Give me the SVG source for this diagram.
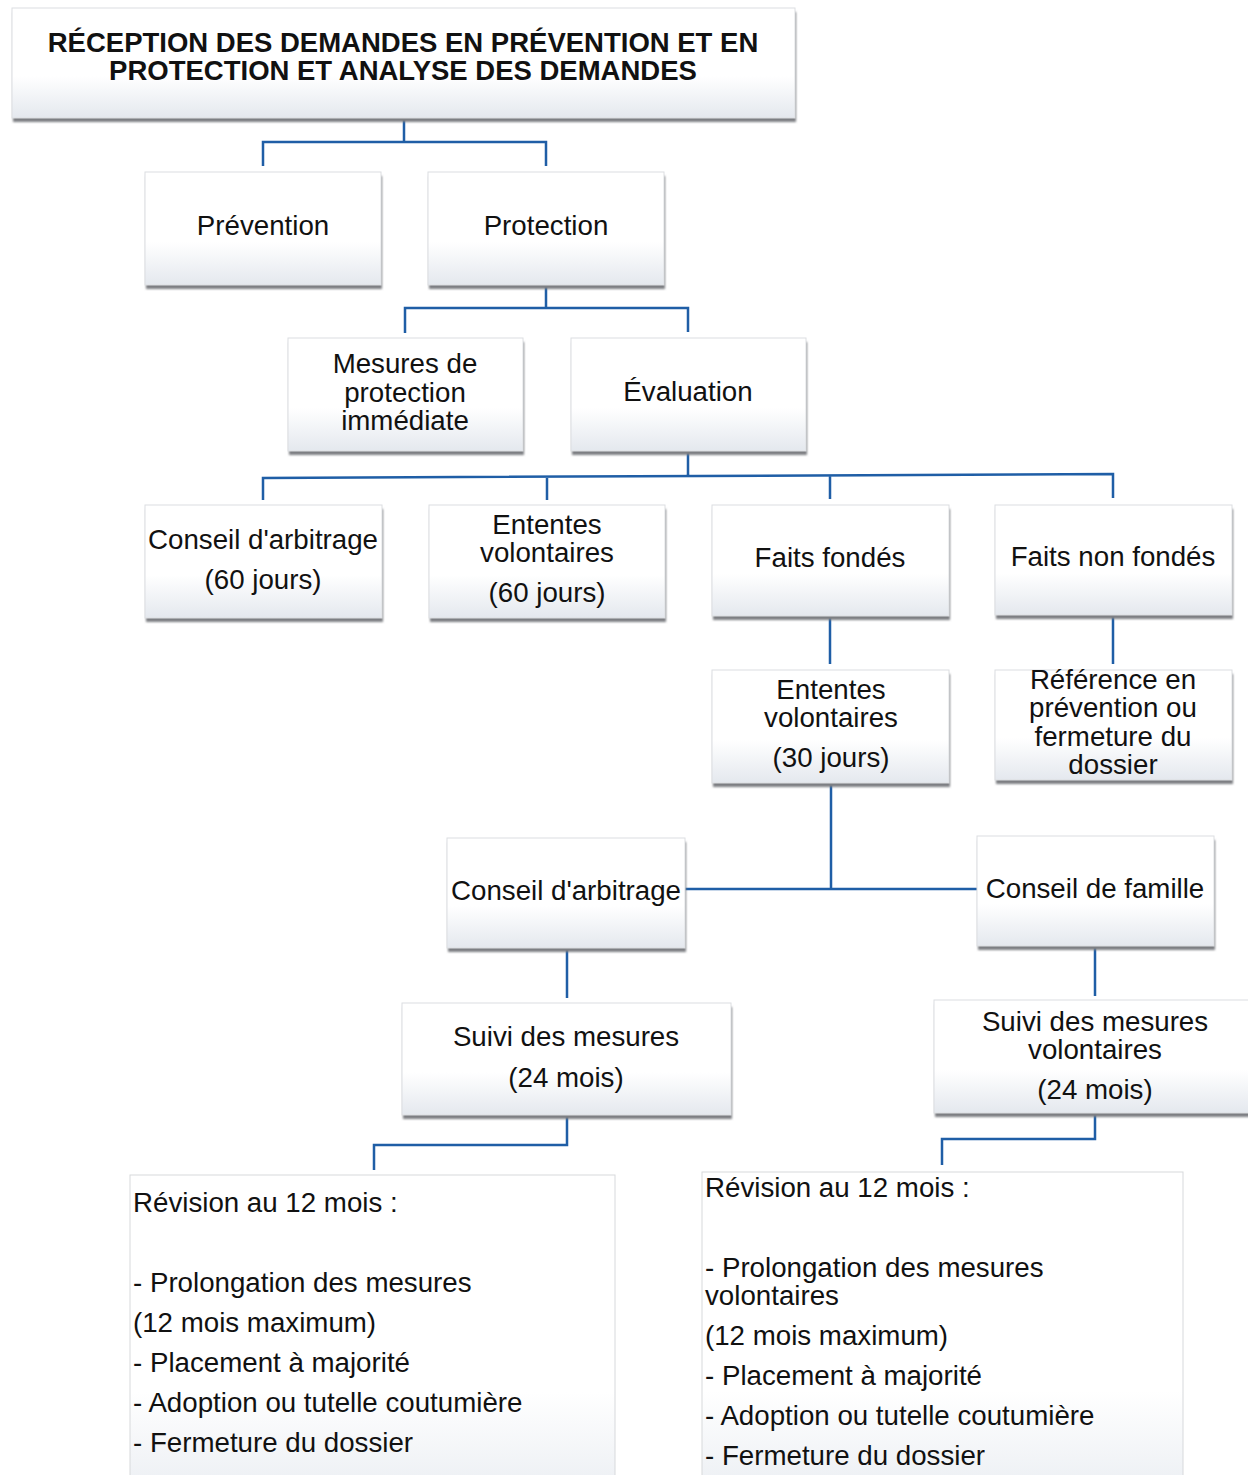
<svg xmlns="http://www.w3.org/2000/svg" width="1248" height="1475" viewBox="0 0 1248 1475">
<defs>
<linearGradient id="g" x1="0" y1="0" x2="0" y2="1">
<stop offset="0" stop-color="#ffffff"/>
<stop offset="0.62" stop-color="#ffffff"/>
<stop offset="1" stop-color="#e4e8ee"/>
</linearGradient>
<linearGradient id="g2" x1="0" y1="0" x2="0" y2="1">
<stop offset="0" stop-color="#ffffff"/>
<stop offset="0.7" stop-color="#ffffff"/>
<stop offset="1" stop-color="#edf0f4"/>
</linearGradient>
<filter id="sh" x="-5%" y="-5%" width="110%" height="120%">
<feGaussianBlur stdDeviation="1.2"/>
</filter>
</defs>
<style>
.shadow{fill:#7d7f83;filter:url(#sh)}
.box{fill:url(#g);stroke:#dcdee1;stroke-width:1}
.box2{fill:url(#g2);stroke:#d7d9dc;stroke-width:1}
.t{font-family:"Liberation Sans",Arial,sans-serif;font-size:27.7px;fill:#111;text-anchor:middle}
.tl{font-family:"Liberation Sans",Arial,sans-serif;font-size:27.7px;fill:#111}
.title{font-family:"Liberation Sans",Arial,sans-serif;font-size:27.5px;font-weight:bold;fill:#111;text-anchor:middle}
.c{fill:none;stroke:#1f5ea6;stroke-width:2.5}
</style>
<rect width="1248" height="1475" fill="#ffffff"/>

<g id="connectors">
<path class="c" d="M404 120 V142 M263 166 V142 H546 V166"/>
<path class="c" d="M546 287 V308 M405 333 V308 H688 V332"/>
<path class="c" d="M688 453 V476 M263 500 V478 L1113 474 V498 M547 476 V500 M830 475 V499"/>
<path class="c" d="M830 618 V664 M1113 617 V664"/>
<path class="c" d="M831 785 V889 M684 889 H978"/>
<path class="c" d="M567 950 V998 M1095 948 V996"/>
<path class="c" d="M567 1117 V1145 H374 V1170 M1095 1115 V1139 H942 V1165"/>
</g>

<g id="n-title">
<rect class="shadow" x="13" y="12" width="783" height="110"/>
<rect class="box" x="12" y="8" width="783" height="110"/>
<text class="title" x="403" y="52">RÉCEPTION DES DEMANDES EN PRÉVENTION ET EN</text>
<text class="title" x="403" y="80">PROTECTION ET ANALYSE DES DEMANDES</text>
</g>

<g id="n-prevention">
<rect class="shadow" x="146" y="176" width="236" height="113"/>
<rect class="box" x="145" y="172" width="236" height="113"/>
<text class="t" x="263" y="235">Prévention</text>
</g>

<g id="n-protection">
<rect class="shadow" x="429" y="176" width="236" height="113"/>
<rect class="box" x="428" y="172" width="236" height="113"/>
<text class="t" x="546" y="235">Protection</text>
</g>

<g id="n-mesures">
<rect class="shadow" x="289" y="342" width="235" height="113"/>
<rect class="box" x="288" y="338" width="235" height="113"/>
<text class="t" x="405" y="373">Mesures de</text>
<text class="t" x="405" y="402">protection</text>
<text class="t" x="405" y="430">immédiate</text>
</g>

<g id="n-evaluation">
<rect class="shadow" x="572" y="342" width="235" height="113"/>
<rect class="box" x="571" y="338" width="235" height="113"/>
<text class="t" x="688" y="401">Évaluation</text>
</g>

<g id="n-conseil-arbitrage-60">
<rect class="shadow" x="146" y="509" width="237" height="113"/>
<rect class="box" x="145" y="505" width="237" height="113"/>
<text class="t" x="263" y="549">Conseil d'arbitrage</text>
<text class="t" x="263" y="589">(60 jours)</text>
</g>

<g id="n-ententes-60">
<rect class="shadow" x="430" y="509" width="236" height="113"/>
<rect class="box" x="429" y="505" width="236" height="113"/>
<text class="t" x="547" y="534">Ententes</text>
<text class="t" x="547" y="562">volontaires</text>
<text class="t" x="547" y="602">(60 jours)</text>
</g>

<g id="n-faits-fondes">
<rect class="shadow" x="713" y="509" width="237" height="111"/>
<rect class="box" x="712" y="505" width="237" height="111"/>
<text class="t" x="830" y="567">Faits fondés</text>
</g>

<g id="n-faits-non-fondes">
<rect class="shadow" x="996" y="509" width="237" height="110"/>
<rect class="box" x="995" y="505" width="237" height="110"/>
<text class="t" x="1113" y="566">Faits non fondés</text>
</g>

<g id="n-ententes-30">
<rect class="shadow" x="713" y="674" width="237" height="113"/>
<rect class="box" x="712" y="670" width="237" height="113"/>
<text class="t" x="831" y="699">Ententes</text>
<text class="t" x="831" y="727">volontaires</text>
<text class="t" x="831" y="767">(30 jours)</text>
</g>

<g id="n-reference">
<rect class="shadow" x="996" y="674" width="237" height="110"/>
<rect class="box" x="995" y="670" width="237" height="110"/>
<text class="t" x="1113" y="689">Référence en</text>
<text class="t" x="1113" y="717">prévention ou</text>
<text class="t" x="1113" y="746">fermeture du</text>
<text class="t" x="1113" y="774">dossier</text>
</g>

<g id="n-conseil-arbitrage">
<rect class="shadow" x="448" y="842" width="238" height="110"/>
<rect class="box" x="447" y="838" width="238" height="110"/>
<text class="t" x="566" y="900">Conseil d'arbitrage</text>
</g>

<g id="n-conseil-famille">
<rect class="shadow" x="978" y="840" width="237" height="110"/>
<rect class="box" x="977" y="836" width="237" height="110"/>
<text class="t" x="1095" y="898">Conseil de famille</text>
</g>

<g id="n-suivi">
<rect class="shadow" x="403" y="1007" width="329" height="112"/>
<rect class="box" x="402" y="1003" width="329" height="112"/>
<text class="t" x="566" y="1046">Suivi des mesures</text>
<text class="t" x="566" y="1087">(24 mois)</text>
</g>

<g id="n-suivi-volontaires">
<rect class="shadow" x="935" y="1004" width="330" height="113"/>
<rect class="box" x="934" y="1000" width="330" height="113"/>
<text class="t" x="1095" y="1031">Suivi des mesures</text>
<text class="t" x="1095" y="1059">volontaires</text>
<text class="t" x="1095" y="1099">(24 mois)</text>
</g>

<g id="n-revision-1">
<rect class="box2" x="130" y="1175" width="485" height="310"/>
<text class="tl" x="133" y="1212">Révision au 12 mois :</text>
<text class="tl" x="133" y="1292">- Prolongation des mesures</text>
<text class="tl" x="133" y="1332">(12 mois maximum)</text>
<text class="tl" x="133" y="1372">- Placement à majorité</text>
<text class="tl" x="133" y="1412">- Adoption ou tutelle coutumière</text>
<text class="tl" x="133" y="1452">- Fermeture du dossier</text>
</g>

<g id="n-revision-2">
<rect class="box2" x="702" y="1172" width="481" height="313"/>
<text class="tl" x="705" y="1197">Révision au 12 mois :</text>
<text class="tl" x="705" y="1277">- Prolongation des mesures</text>
<text class="tl" x="705" y="1305">volontaires</text>
<text class="tl" x="705" y="1345">(12 mois maximum)</text>
<text class="tl" x="705" y="1385">- Placement à majorité</text>
<text class="tl" x="705" y="1425">- Adoption ou tutelle coutumière</text>
<text class="tl" x="705" y="1465">- Fermeture du dossier</text>
</g>
</svg>
